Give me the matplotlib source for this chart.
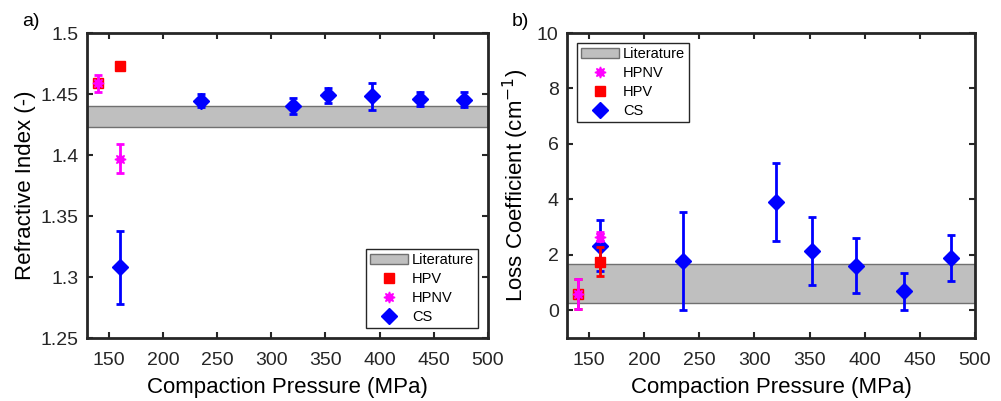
import matplotlib
matplotlib.use("Agg")
import matplotlib.pyplot as plt
from matplotlib.lines import Line2D

plt.rcParams['font.family'] = ['Liberation Sans', 'DejaVu Sans']

# ---- Panel a: refractive index ----
a_hpv_x = [140, 160]
a_hpv_y = [1.459, 1.473]
a_hpnv_x = [140, 160]
a_hpnv_y = [1.459, 1.397]
a_hpnv_err = [0.007, 0.012]
a_cs_x = [160, 235, 320, 352, 393, 437, 478]
a_cs_y = [1.308, 1.4445, 1.440, 1.449, 1.448, 1.4463, 1.4455]
a_cs_err = [0.030, 0.0055, 0.0065, 0.006, 0.011, 0.0057, 0.006]
a_lit = [1.423, 1.440]

# ---- Panel b: loss coefficient ----
b_hpnv_x = [140, 160]
b_hpnv_y = [0.60, 2.66]
b_hpnv_err = [0.54, 0.15]
b_hpv_x = [140, 160]
b_hpv_y = [0.60, 1.76]
b_hpv_err = [0.54, 0.52]
b_cs_x = [160, 235, 320, 352, 392, 436, 478]
b_cs_y = [2.33, 1.78, 3.91, 2.15, 1.61, 0.68, 1.87]
b_cs_err = [0.93, 1.78, 1.42, 1.22, 1.00, 0.66, 0.83]
b_lit = [0.26, 1.67]

xticks = [150, 200, 250, 300, 350, 400, 450, 500]
a_yticks = [1.25, 1.3, 1.35, 1.4, 1.45, 1.5]
a_yticklabels = ['1.25', '1.3', '1.35', '1.4', '1.45', '1.5']
b_yticks = [0, 2, 4, 6, 8, 10]

RED = '#ff0000'
MAG = '#ff00ff'
BLUE = '#0000ff'
AXC = '#262626'
STAR = (8, 1, 0)

fig = plt.figure(figsize=(10.01, 4.01), dpi=100)
axa = fig.add_axes([0.0869, 0.157, 0.4006, 0.7606])
axb = fig.add_axes([0.5664, 0.157, 0.4076, 0.7606])

ekw = dict(fmt='none', elinewidth=2, capsize=2.8, capthick=2)


def style(ax):
    ax.set_xlim(130, 500)
    ax.set_xticks(xticks)
    for s in ax.spines.values():
        s.set_linewidth(2)
        s.set_color(AXC)
    ax.tick_params(direction='in', length=4, width=1.5, color=AXC,
                   top=True, right=True, labelsize=14, labelcolor=AXC)
    ax.tick_params(axis='x', pad=10)
    ax.tick_params(axis='y', pad=6)
    ax.set_xlabel('Compaction Pressure (MPa)', fontsize=16, color='black', labelpad=6)


def legend(ax, band, labels, markers, loc):
    hs = [band]
    for mk, col, ms in markers:
        hs.append(Line2D([], [], marker=mk, color=col, markersize=ms, linestyle='none'))
    lg = ax.legend(handles=hs, labels=labels, loc=loc, fontsize=10.5, frameon=True,
                   fancybox=False, edgecolor=AXC, borderaxespad=0.7, handlelength=2.6,
                   handletextpad=0.3, labelspacing=0.35, borderpad=0.25, framealpha=1)
    lg.get_frame().set_linewidth(1)
    return lg


# Panel a
band_a = axa.axhspan(a_lit[0], a_lit[1], facecolor='#bfbfbf', edgecolor='#707070', linewidth=1, zorder=1)
axa.plot(a_hpv_x, a_hpv_y, 's', color=RED, markersize=7.5, linestyle='none', zorder=3)
axa.errorbar(a_hpnv_x, a_hpnv_y, yerr=a_hpnv_err, ecolor=MAG, zorder=4, **ekw)
axa.plot(a_hpnv_x, a_hpnv_y, marker=STAR, color=MAG, markersize=8, linestyle='none', zorder=4)
axa.errorbar(a_cs_x, a_cs_y, yerr=a_cs_err, ecolor=BLUE, zorder=5, **ekw)
axa.plot(a_cs_x, a_cs_y, 'D', color=BLUE, markersize=8, linestyle='none', zorder=5)
axa.set_ylim(1.25, 1.5)
axa.set_yticks(a_yticks)
axa.set_yticklabels(a_yticklabels)
style(axa)
axa.set_ylabel('Refractive Index (-)', fontsize=16, color='black', labelpad=3)
legend(axa, band_a, ['Literature', 'HPV', 'HPNV', 'CS'],
       [('s', RED, 7.5), (STAR, MAG, 8), ('D', BLUE, 8)], 'lower right')

# Panel b
band_b = axb.axhspan(b_lit[0], b_lit[1], facecolor='#bfbfbf', edgecolor='#707070', linewidth=1, zorder=1)
axb.errorbar(b_cs_x, b_cs_y, yerr=b_cs_err, ecolor=BLUE, zorder=3, **ekw)
axb.plot(b_cs_x, b_cs_y, 'D', color=BLUE, markersize=8, linestyle='none', zorder=3)
axb.errorbar(b_hpv_x, b_hpv_y, yerr=b_hpv_err, ecolor=RED, zorder=4, **ekw)
axb.plot(b_hpv_x, b_hpv_y, 's', color=RED, markersize=7.5, linestyle='none', zorder=4)
axb.errorbar(b_hpnv_x, b_hpnv_y, yerr=b_hpnv_err, ecolor=MAG, zorder=5, **ekw)
axb.plot(b_hpnv_x, b_hpnv_y, marker=STAR, color=MAG, markersize=8, linestyle='none', zorder=5)
axb.set_ylim(-1, 10)
axb.set_yticks(b_yticks)
style(axb)
axb.set_ylabel('Loss Coefficient (cm$^{-1}$)', fontsize=16, color='black', labelpad=4)
legend(axb, band_b, ['Literature', 'HPNV', 'HPV', 'CS'],
       [(STAR, MAG, 8), ('s', RED, 7.5), ('D', BLUE, 8)], 'upper left')

fig.text(0.022, 0.947, 'a)', fontsize=14, color='black', va='center', ha='left')
fig.text(0.511, 0.947, 'b)', fontsize=14, color='black', va='center', ha='left')

fig.savefig('out.png', dpi=100)
